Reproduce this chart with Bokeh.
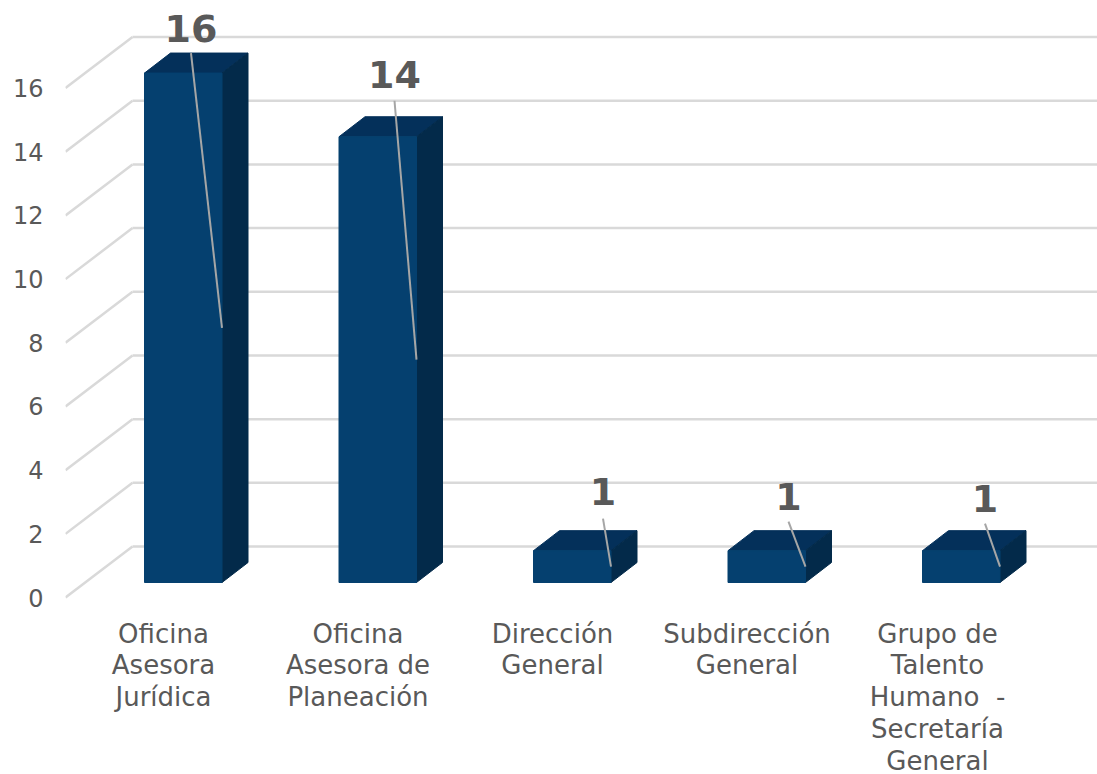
from bokeh.plotting import figure
from bokeh.models import Range1d, FixedTicker
from bokeh.core.properties import value
from bokeh.embed import file_html
from bokeh.resources import INLINE

# Chart data
categories = ["Oficina\nAsesora\nJurídica", "Oficina\nAsesora de\nPlaneación", "Dirección\nGeneral",
              "Subdirección\nGeneral", "Grupo de\nTalento\nHumano \u00a0-\nSecretaría\nGeneral"]
counts = [16, 14, 1, 1, 1]
y_ticks = [0, 2, 4, 6, 8, 10, 12, 14, 16]

# Pseudo-3D projection, expressed in data units
PX_X = 194.5      # pixels per category slot
PX_Y = 31.84      # pixels per unit of value
BAR_W = 77.5 / PX_X
DEPTH_X = 26 / PX_X
DEPTH_Y = 20 / PX_Y
FLOOR = 15 / PX_Y          # bar base above the front edge of the wall
WALL_X = 67 / PX_X
WALL_Y = 51 / PX_Y
WALL_LEFT = -79 / PX_X

FRONT, TOP, SIDE = "#05406F", "#04305A", "#032A4A"
GRID = "#D9D9D9"
LEADER = "#A6A6A6"
TEXT = "#595959"

# Offsets of each value label from the top-right corner of its bar
label_dx = [-31 / PX_X, -22 / PX_X, -8 / PX_X, -17 / PX_X, -15 / PX_X]
label_dy = [44.5 / PX_Y, 62.5 / PX_Y, 59 / PX_Y, 54 / PX_Y, 52 / PX_Y]
leader_gap = [24.5 / PX_Y, 26.5 / PX_Y, 27 / PX_Y, 25 / PX_Y, 25 / PX_Y]

# Category label centres relative to bar left edges
cat_dx = [19 / PX_X, 19 / PX_X, 19 / PX_X, 19 / PX_X, 15 / PX_X]
cat_top = -21 / PX_Y

p = figure(width=1097, height=774, output_backend="svg", toolbar_location=None,
           x_range=Range1d(WALL_LEFT, WALL_LEFT + 1032 / PX_X),
           y_range=Range1d(-177 / PX_Y, 597 / PX_Y),
           min_border_left=65, min_border_right=0, min_border_top=0, min_border_bottom=0,
           x_axis_location=None, outline_line_color=None)
p.xgrid.visible = False
p.ygrid.visible = False

ax = p.yaxis[0]
ax.ticker = FixedTicker(ticks=y_ticks)
ax.axis_line_color = None
ax.major_tick_line_color = None
ax.minor_tick_line_color = None
ax.major_label_standoff = 16
ax.major_label_text_font = "DejaVu Sans"
ax.major_label_text_font_size = "24px"
ax.major_label_text_color = TEXT

# Back wall and side wall gridlines
x_back = WALL_LEFT + WALL_X
p.segment([WALL_LEFT] * len(y_ticks), y_ticks, [x_back] * len(y_ticks), [v + WALL_Y for v in y_ticks],
          line_color=GRID, line_width=2.5)
p.segment([x_back] * len(y_ticks), [v + WALL_Y for v in y_ticks],
          [WALL_LEFT + 1032 / PX_X] * len(y_ticks), [v + WALL_Y for v in y_ticks],
          line_color=GRID, line_width=2.5)

# Boxes
for i, v in enumerate(counts):
    l, r = i, i + BAR_W
    b, t = FLOOR, FLOOR + v
    p.patch([l, l + DEPTH_X, r + DEPTH_X, r], [t, t + DEPTH_Y, t + DEPTH_Y, t],
            fill_color=TOP, line_color=TOP, line_width=1)
    p.patch([r, r + DEPTH_X, r + DEPTH_X, r], [b, b + DEPTH_Y, t + DEPTH_Y, t],
            fill_color=SIDE, line_color=SIDE, line_width=1)
    p.quad(left=l, right=r, bottom=b, top=t, fill_color=FRONT, line_color=FRONT, line_width=1)

# Leader lines and value labels
for i, v in enumerate(counts):
    r = i + BAR_W
    lx = r + label_dx[i]
    ly = FLOOR + v + label_dy[i]
    p.line([lx, r], [ly - leader_gap[i], FLOOR + v / 2], line_color=LEADER, line_width=2)
    p.text([lx], [ly], text=[str(v)], text_font=value("DejaVu Sans"), text_font_style="bold",
           text_font_size="38px", text_color=TEXT, text_align="center", text_baseline="middle")

# Category labels
p.text([i + cat_dx[i] for i in range(len(categories))], [cat_top] * len(categories), text=categories,
       text_font=value("DejaVu Sans"), text_font_size="26px", text_color=TEXT,
       text_align="center", text_baseline="top", text_line_height=1.06)

open("out.html", "w").write(file_html(p, INLINE))
